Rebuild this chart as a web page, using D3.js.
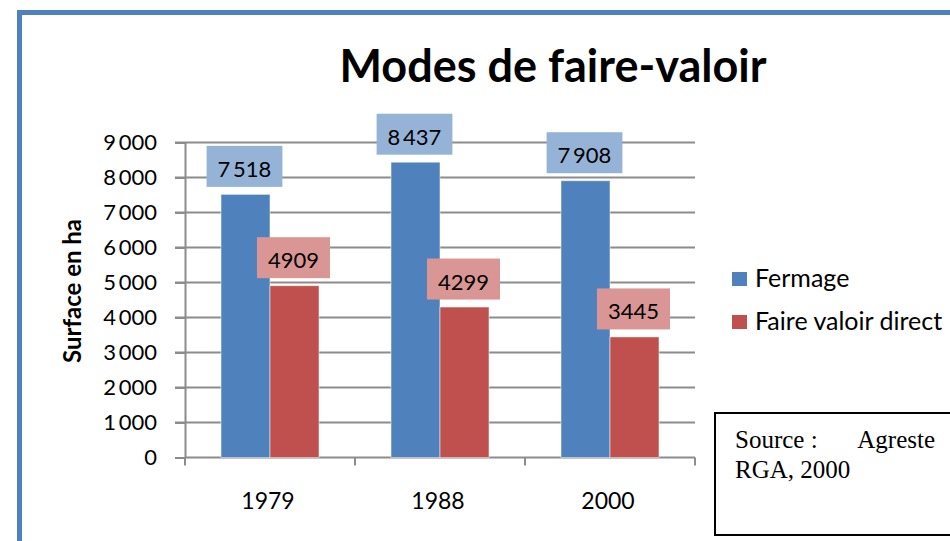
<!DOCTYPE html>
<html>
<head>
<meta charset="utf-8">
<script src="https://cdn.jsdelivr.net/npm/d3@7"></script>
<style>
body { margin: 0; background: #fff; }
svg { display: block; font-family: Lato, "Open Sans", sans-serif; }
</style>
</head>
<body>
<svg width="950" height="541"></svg>
<script>
'use strict';

var years = ['1979', '1988', '2000'];
var series = ['Fermage', 'Faire valoir direct'];
var fermage = [7518, 8437, 7908];
var faireValoir = [4909, 4299, 3445];
var yTicks = [0, 1000, 2000, 3000, 4000, 5000, 6000, 7000, 8000, 9000];

var colors = {'Fermage': '#4f81bd', 'Faire valoir direct': '#c0504d'};
var labelFill = {'Fermage': '#95b3d7', 'Faire valoir direct': '#da9694'};

var fr = d3.formatLocale({decimal: ',', thousands: '\u2009', grouping: [3], currency: ['', '']});
var fmtTick = fr.format(',');
// the red labels have no thousands space in the original
var fmtLabel = {'Fermage': fr.format(','), 'Faire valoir direct': d3.format('d')};

var svg = d3.select('svg');

var y = d3.scaleLinear().domain([0, 9000]).range([457.5, 142.5]);
var x0 = d3.scaleBand().domain(years).range([185, 695]);
var x1 = d3.scaleBand().domain(series).range([0, x0.bandwidth()]).paddingOuter(0.735);

// frame
svg.append('path')
	.attr('d', 'M19.5,545V12.5H955')
	.attr('fill', 'none').attr('stroke', '#4f81bd').attr('stroke-width', 5);

svg.append('text')
	.attr('x', 553).attr('y', 82)
	.attr('text-anchor', 'middle')
	.style('font-size', '45px').style('font-weight', 'bold')
	.text('Modes de faire-valoir');

// gridlines
svg.append('g').selectAll('line').data(yTicks.slice(1)).enter().append('line')
	.attr('x1', 175).attr('x2', 695)
	.attr('y1', function (d) { return y(d); }).attr('y2', function (d) { return y(d); })
	.attr('stroke', '#8c8c8c').attr('stroke-width', 2);

var yAxis = svg.append('g').attr('transform', 'translate(185,0)')
	.call(d3.axisLeft(y).tickValues(yTicks).tickFormat(fmtTick).tickSize(10).tickSizeOuter(0).tickPadding(18));
yAxis.selectAll('line, path').attr('stroke', '#8c8c8c').attr('stroke-width', 2);
yAxis.selectAll('text').style('font-size', '22px').style('font-family', 'Lato').attr('fill', '#000');

svg.append('text')
	.attr('transform', 'translate(81,291) rotate(-90)')
	.attr('text-anchor', 'middle')
	.style('font-size', '24px').style('font-weight', 'bold')
	.text('Surface en ha');

// x axis
svg.append('line')
	.attr('x1', 185).attr('x2', 695).attr('y1', y(0)).attr('y2', y(0))
	.attr('stroke', '#8c8c8c').attr('stroke-width', 2);
svg.append('g').selectAll('line').data(years.map(function (d) { return x0(d); }).concat([x0.range()[1]]))
	.enter().append('line')
	.attr('x1', function (d) { return d; }).attr('x2', function (d) { return d; })
	.attr('y1', y(0)).attr('y2', y(0) + 8)
	.attr('stroke', '#8c8c8c').attr('stroke-width', 2);
svg.append('g').selectAll('text').data(years).enter().append('text')
	.attr('x', function (d) { return x0(d) + x0.bandwidth() / 2 - 2; })
	.attr('y', 509)
	.attr('text-anchor', 'middle')
	.style('font-size', '23px')
	.text(function (d) { return d; });

// bars
var rows = years.map(function (yr, i) {
	return {year: yr, values: [
		{key: 'Fermage', value: fermage[i]},
		{key: 'Faire valoir direct', value: faireValoir[i]}
	]};
});

var groups = svg.append('g').selectAll('g').data(rows).enter().append('g')
	.attr('transform', function (d) { return 'translate(' + x0(d.year) + ',0)'; });

groups.selectAll('rect').data(function (d) { return d.values; }).enter().append('rect')
	.attr('x', function (d) { return x1(d.key); })
	.attr('width', x1.bandwidth())
	.attr('y', function (d) { return y(d.value); })
	.attr('height', function (d) { return y(0) - y(d.value); })
	.attr('fill', function (d) { return colors[d.key]; })
	.attr('stroke', 'rgba(255,255,255,0.5)').attr('stroke-width', 1);

// value labels
groups.selectAll('g.lab').data(function (d) { return d.values; }).enter().append('g')
	.attr('class', 'lab')
	.each(function (d) {
		var g = d3.select(this);
		var cx = x1(d.key) + x1.bandwidth() / 2 - 1;
		var bottom = y(d.value) - 7.5;
		var t = g.append('text')
			.attr('x', cx).attr('y', bottom - 10)
			.attr('text-anchor', 'middle')
			.style('font-size', '22px')
			.text(fmtLabel[d.key](d.value));
		var w = t.node().getComputedTextLength() + 22;
		g.insert('rect', 'text')
			.attr('x', cx - w / 2).attr('y', bottom - 41)
			.attr('width', w).attr('height', 41)
			.attr('fill', labelFill[d.key]);
	});

// legend
var legend = svg.append('g').selectAll('g').data(series).enter().append('g')
	.attr('transform', function (d, i) { return 'translate(732,' + (272 + i * 43) + ')'; });
legend.append('rect').attr('width', 15).attr('height', 14)
	.attr('fill', function (d) { return colors[d]; });
legend.append('text').attr('x', 23).attr('y', 15)
	.style('font-size', '25px')
	.text(function (d) { return d; });

// source box
svg.append('rect')
	.attr('x', 715).attr('y', 413).attr('width', 260).attr('height', 122)
	.attr('fill', '#fff').attr('stroke', '#000').attr('stroke-width', 2);
var src = svg.append('g').style('font-family', '"Liberation Serif", serif').style('font-size', '25px');
src.append('text').attr('x', 735).attr('y', 448).text('Source :');
src.append('text').attr('x', 935).attr('y', 448).attr('text-anchor', 'end').text('Agreste');
src.append('text').attr('x', 735).attr('y', 478).text('RGA, 2000');
</script>
</body>
</html>
